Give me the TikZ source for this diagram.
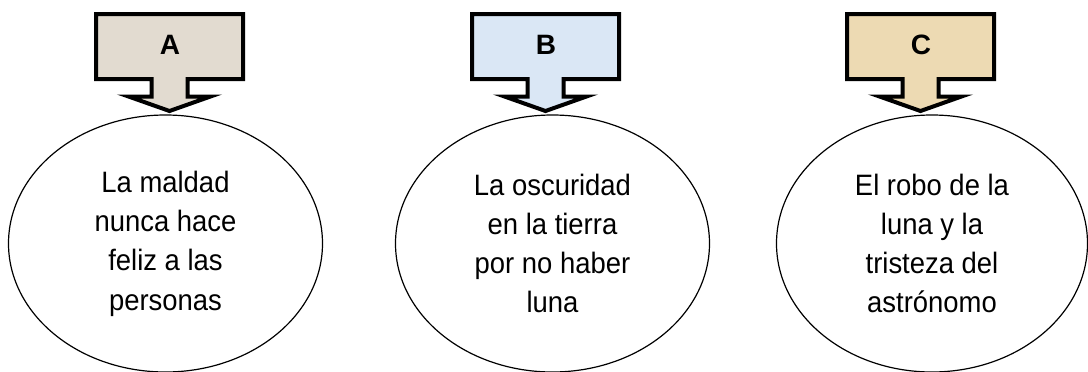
\documentclass[tikz,border=0pt]{standalone}
\usepackage{fontspec}
\setmainfont{Liberation Sans}
\newfontfamily\bubblefont[FakeStretch=0.93]{Liberation Sans}
\usetikzlibrary{shapes.geometric}
\definecolor{fillA}{HTML}{E2DBD0}
\definecolor{fillB}{HTML}{DAE7F5}
\definecolor{fillC}{HTML}{EDDAB3}
\tikzset{
  bubble/.style={draw=black, line width=1.2pt, ellipse, inner sep=0pt,
    align=center, font=\bubblefont\fontsize{29.5}{39.3}\selectfont},
  calloutshape/.style={draw=black, line width=4pt, line join=miter},
  letterlab/.style={font=\fontsize{28}{32}\selectfont\bfseries, inner sep=0pt}
}
\begin{document}
\begin{tikzpicture}[x=1pt,y=-1pt]
\useasboundingbox (0,0) rectangle (1088,372);
\foreach \cx/\col/\ltr/\nm in {169.5/fillA/A/a, 545.5/fillB/B/b, 920.5/fillC/C/c}{
  \draw[calloutshape, fill=\col]
    (\cx-73.5,14) -- (\cx+73.5,14) -- (\cx+73.5,79) -- (\cx+18,79) -- (\cx+18,96.5)
    -- (\cx+41,96.5) -- (\cx,111) -- (\cx-41,96.5) -- (\cx-18,96.5) -- (\cx-18,79)
    -- (\cx-73.5,79) -- cycle;
  \node[letterlab] (lab\nm) at (\cx+0.5,44.5) {\ltr};
}
\node[bubble, minimum width=314pt, minimum height=257pt] (ellA) at (165.5,243.5)
  {La maldad\\nunca hace\\feliz a las\\personas};
\node[bubble, minimum width=314pt, minimum height=257pt] (ellB) at (552.5,243.5)
  {La oscuridad\\en la tierra\\por no haber\\luna};
\node[bubble, minimum width=311pt, minimum height=257pt] (ellC) at (932,243.5)
  {El robo de la\\luna y la\\tristeza del\\astrónomo};
\end{tikzpicture}
\end{document}
